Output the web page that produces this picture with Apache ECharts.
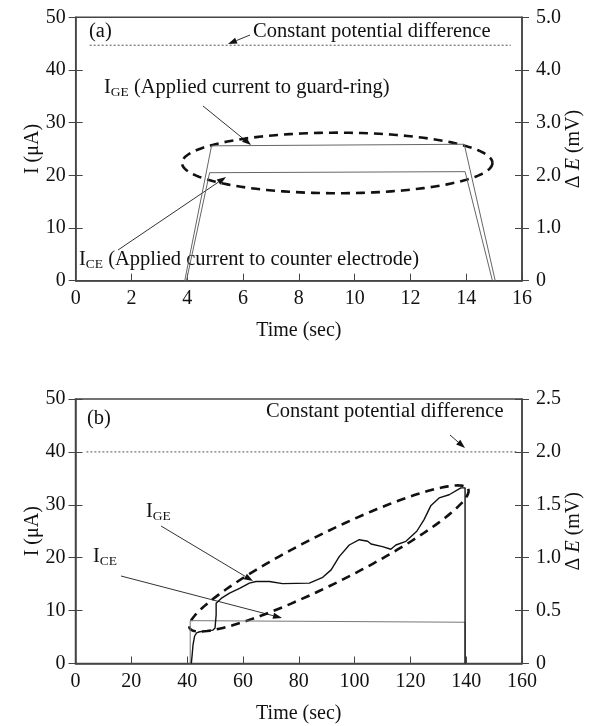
<!DOCTYPE html>
<html><head><meta charset="utf-8">
<script src="https://cdn.jsdelivr.net/npm/echarts@6/dist/echarts.min.js"></script>
<style>html,body{margin:0;padding:0;background:#fff}#c{width:592px;height:726px}</style>
</head><body><div id="c"></div>
<script>
// ---------- Panel (a) ----------
const timeA_GE = [3.91, 4.87, 13.93, 15.04];
const currA_GE = [0, 25.6, 25.9, 0];
const timeA_CE = [3.97, 4.80, 13.96, 14.94];
const currA_CE = [0, 20.5, 20.7, 0];
const potA_time = [0.5, 15.6];
const potA_dE = [4.47, 4.47];
const ellipseA = [3.81, 22.35, 14.94, 22.35, 5.75]; // x1,y1,x2,y2 (major axis ends), semi-minor (µA)
const xTicksA = [0, 2, 4, 6, 8, 10, 12, 14, 16];
const leftTicks = ['0', '10', '20', '30', '40', '50'];
const rightTicksA = ['0', '1.0', '2.0', '3.0', '4.0', '5.0'];

// ---------- Panel (b) ----------
const timeB_GE = [41.5, 41.8, 42.1, 42.7, 43.4, 44.5, 49.2, 50.0, 50.4, 50.4, 52.2, 55.2, 58.8, 62.3, 64.7, 69.5, 74.2, 83.8, 88.6, 91.6, 94.5, 98.1, 101.7, 104.7, 105.9, 110.0, 113.0, 114.8, 118.4, 122.3, 124.9, 127.3, 130.3, 133.9, 138.1, 139.6, 139.6];
const currB_GE = [0, 1.6, 3.5, 5.2, 5.8, 6.0, 6.3, 6.7, 9.2, 11.4, 12.3, 13.3, 14.2, 15.2, 15.5, 15.5, 15.1, 15.2, 16.3, 17.7, 20.2, 22.4, 23.4, 23.1, 22.6, 22.1, 21.6, 22.4, 23.1, 25.0, 27.2, 29.8, 31.3, 31.9, 33.2, 33.2, 0];
const timeB_CE = [41.1, 41.1, 139.6, 139.6];
const currB_CE = [0, 8.1, 7.8, 0];
const potB_time = [3.9, 158];
const potB_dE = [2.0, 2.0];
const ellipseB = [40.9, 6.7, 140.7, 33.0, 4.73];
const xTicksB = [0, 20, 40, 60, 80, 100, 120, 140, 160];
const rightTicksB = ['0', '0.5', '1.0', '1.5', '2.0', '2.5'];

const FONT = '"Liberation Serif", "Times New Roman", serif';
const AX = '#444';
const TS = 20.5; // annotation font size
const zip = (a, b) => a.map((v, i) => [v, b[i]]);

const chart = echarts.init(document.getElementById('c'), null, {renderer: 'canvas'});

const mctx = document.createElement('canvas').getContext('2d');
function tw(t, size) { mctx.font = size + 'px ' + FONT; return mctx.measureText(t).width; }

function fmtFrom(list, max) {
  return v => { const i = Math.round(v / max * (list.length - 1)); return list[i]; };
}

function xAxisCfg(g, max, interval) {
  return {
    gridIndex: g, type: 'value', min: 0, max: max, interval: interval,
    axisLine: {show: true, onZero: false, lineStyle: {color: AX, width: 1.5}},
    axisTick: {show: true, inside: true, length: 7, lineStyle: {color: AX, width: 1}},
    axisLabel: {fontSize: 20, fontFamily: FONT, color: '#111', margin: 8},
    splitLine: {show: false},
    name: 'Time (sec)', nameLocation: 'middle', nameGap: 40, nameMoveOverlap: false,
    nameTextStyle: {fontSize: 20, fontFamily: FONT, color: '#111'}
  };
}
function yLeft(g) {
  return {
    gridIndex: g, type: 'value', position: 'left', min: 0, max: 50, interval: 10,
    axisLine: {show: true, onZero: false, lineStyle: {color: AX, width: 1.5}},
    axisTick: {show: true, inside: false, length: 7, lineStyle: {color: AX, width: 1}},
    axisLabel: {fontSize: 20, fontFamily: FONT, color: '#111', margin: 10, formatter: fmtFrom(leftTicks, 50)},
    splitLine: {show: false},
    name: 'I (μA)', nameLocation: 'middle', nameGap: 33, nameRotate: 90, nameMoveOverlap: false,
    nameTextStyle: {fontSize: 20, fontFamily: FONT, color: '#111'}
  };
}
function yInner(g, pos, max, interval) {
  return {
    gridIndex: g, type: 'value', position: pos, min: 0, max: max, interval: interval,
    axisLine: {show: false}, axisLabel: {show: false}, splitLine: {show: false},
    axisTick: {show: true, inside: true, length: 7, lineStyle: {color: AX, width: 1}}
  };
}
function yRight(g, max, interval, ticks) {
  return {
    gridIndex: g, type: 'value', position: 'right', min: 0, max: max, interval: interval,
    axisLine: {show: true, onZero: false, lineStyle: {color: AX, width: 1.5}},
    axisTick: {show: true, inside: false, length: 7, lineStyle: {color: AX, width: 1}},
    axisLabel: {fontSize: 20, fontFamily: FONT, color: '#111', margin: 14, formatter: fmtFrom(ticks, max)},
    splitLine: {show: false},
    name: 'Δ {i|E} (mV)', nameLocation: 'middle', nameGap: 42, nameRotate: 90, nameMoveOverlap: false,
    nameTextStyle: {fontSize: 20, fontFamily: FONT, color: '#111',
      rich: {i: {fontSize: 20, fontFamily: FONT, fontStyle: 'italic', color: '#111'}}}
  };
}

function ellipseRender(params, api) {
  const p1 = api.coord([api.value(0), api.value(1)]);
  const p2 = api.coord([api.value(2), api.value(3)]);
  const b = Math.abs(api.size([0, api.value(4)])[1]);
  const cx = (p1[0] + p2[0]) / 2, cy = (p1[1] + p2[1]) / 2;
  const dx = (p2[0] - p1[0]) / 2, dy = (p2[1] - p1[1]) / 2;
  const a = Math.hypot(dx, dy), ux = dx / a, uy = dy / a;
  const pts = [];
  for (let k = 0; k <= 160; k++) {
    const t = 2 * Math.PI * k / 160, c = a * Math.cos(t), s = b * Math.sin(t);
    pts.push([cx + ux * c - uy * s, cy + uy * c + ux * s]);
  }
  return {type: 'polyline', shape: {points: pts},
    style: {fill: null, stroke: '#111', lineWidth: 2.6, lineDash: [9, 6]}};
}

function lineSeries(x, y, xi, yi, color, width, dash) {
  return {type: 'line', xAxisIndex: xi, yAxisIndex: yi, data: zip(x, y), symbol: 'none',
    showSymbol: false, animation: false, silent: true, clip: false,
    lineStyle: {color: color, width: width, type: dash || 'solid'}};
}

function arrow(x1, y1, x2, y2) {
  const ang = Math.atan2(y2 - y1, x2 - x1), L = 9, W = 3.2;
  const bx = x2 - L * Math.cos(ang), by = y2 - L * Math.sin(ang);
  const px = -Math.sin(ang) * W, py = Math.cos(ang) * W;
  return [
    {type: 'line', shape: {x1: x1, y1: y1, x2: bx, y2: by}, style: {stroke: '#333', lineWidth: 1}, silent: true},
    {type: 'polygon', shape: {points: [[x2, y2], [bx + px, by + py], [bx - px, by - py]]}, style: {fill: '#111'}, silent: true}
  ];
}
function txt(t, x, y, size) {
  return {type: 'text', x: x, y: y, silent: true,
    style: {text: t, fontSize: size || TS, fontFamily: FONT, fill: '#111', align: 'left', verticalAlign: 'middle'}};
}
function subLabel(x, y, sub, rest) {
  const w1 = tw('I', TS), w2 = tw(sub, 13.5);
  const out = [txt('I', x, y, TS), txt(sub, x + w1, y + 4, 13.5)];
  if (rest) out.push(txt(rest, x + w1 + w2, y, TS));
  return out;
}

const graphics = [].concat(
  txt('(a)', 89, 32),
  txt('Constant potential difference', 253, 32),
  arrow(250, 35, 228, 44),
  subLabel(104, 88, 'GE', ' (Applied current to guard-ring)'),
  arrow(203, 106, 251, 145),
  subLabel(79, 260, 'CE', ' (Applied current to counter electrode)'),
  arrow(118, 250, 226, 177),
  txt('(b)', 87, 419),
  txt('Constant potential difference', 266, 412),
  arrow(450, 435, 465, 448),
  subLabel(146, 512, 'GE'),
  arrow(161, 526, 253, 581),
  subLabel(93, 557, 'CE'),
  arrow(121, 576, 282, 618)
);

const option = {
  animation: false,
  backgroundColor: '#fff',
  grid: [
    {left: 75.7, right: 69, top: 17.3, height: 263.4, show: true, borderColor: AX, borderWidth: 1.5, backgroundColor: 'transparent'},
    {left: 75.5, right: 69, top: 399, height: 264.5, show: true, borderColor: AX, borderWidth: 1.5, backgroundColor: 'transparent'}
  ],
  xAxis: [xAxisCfg(0, 16, 2), xAxisCfg(1, 160, 20)],
  yAxis: [
    yLeft(0), yInner(0, 'left', 50, 10), yRight(0, 5, 1, rightTicksA), yInner(0, 'right', 5, 1),
    yLeft(1), yInner(1, 'left', 50, 10), yRight(1, 2.5, 0.5, rightTicksB), yInner(1, 'right', 2.5, 0.5)
  ],
  series: [
    lineSeries(timeA_GE, currA_GE, 0, 0, '#666', 1),
    lineSeries(timeA_CE, currA_CE, 0, 0, '#666', 1),
    lineSeries(potA_time, potA_dE, 0, 2, '#555', 1, [2, 2]),
    {type: 'custom', xAxisIndex: 0, yAxisIndex: 0, data: [ellipseA], renderItem: ellipseRender, clip: false, silent: true},
    lineSeries(timeB_CE, currB_CE, 1, 4, '#777', 1),
    lineSeries(timeB_GE, currB_GE, 1, 4, '#111', 1.4),
    lineSeries(potB_time, potB_dE, 1, 6, '#555', 1, [2, 2]),
    {type: 'custom', xAxisIndex: 1, yAxisIndex: 4, data: [ellipseB], renderItem: ellipseRender, clip: false, silent: true}
  ],
  graphic: graphics
};
chart.setOption(option);
</script></body></html>
